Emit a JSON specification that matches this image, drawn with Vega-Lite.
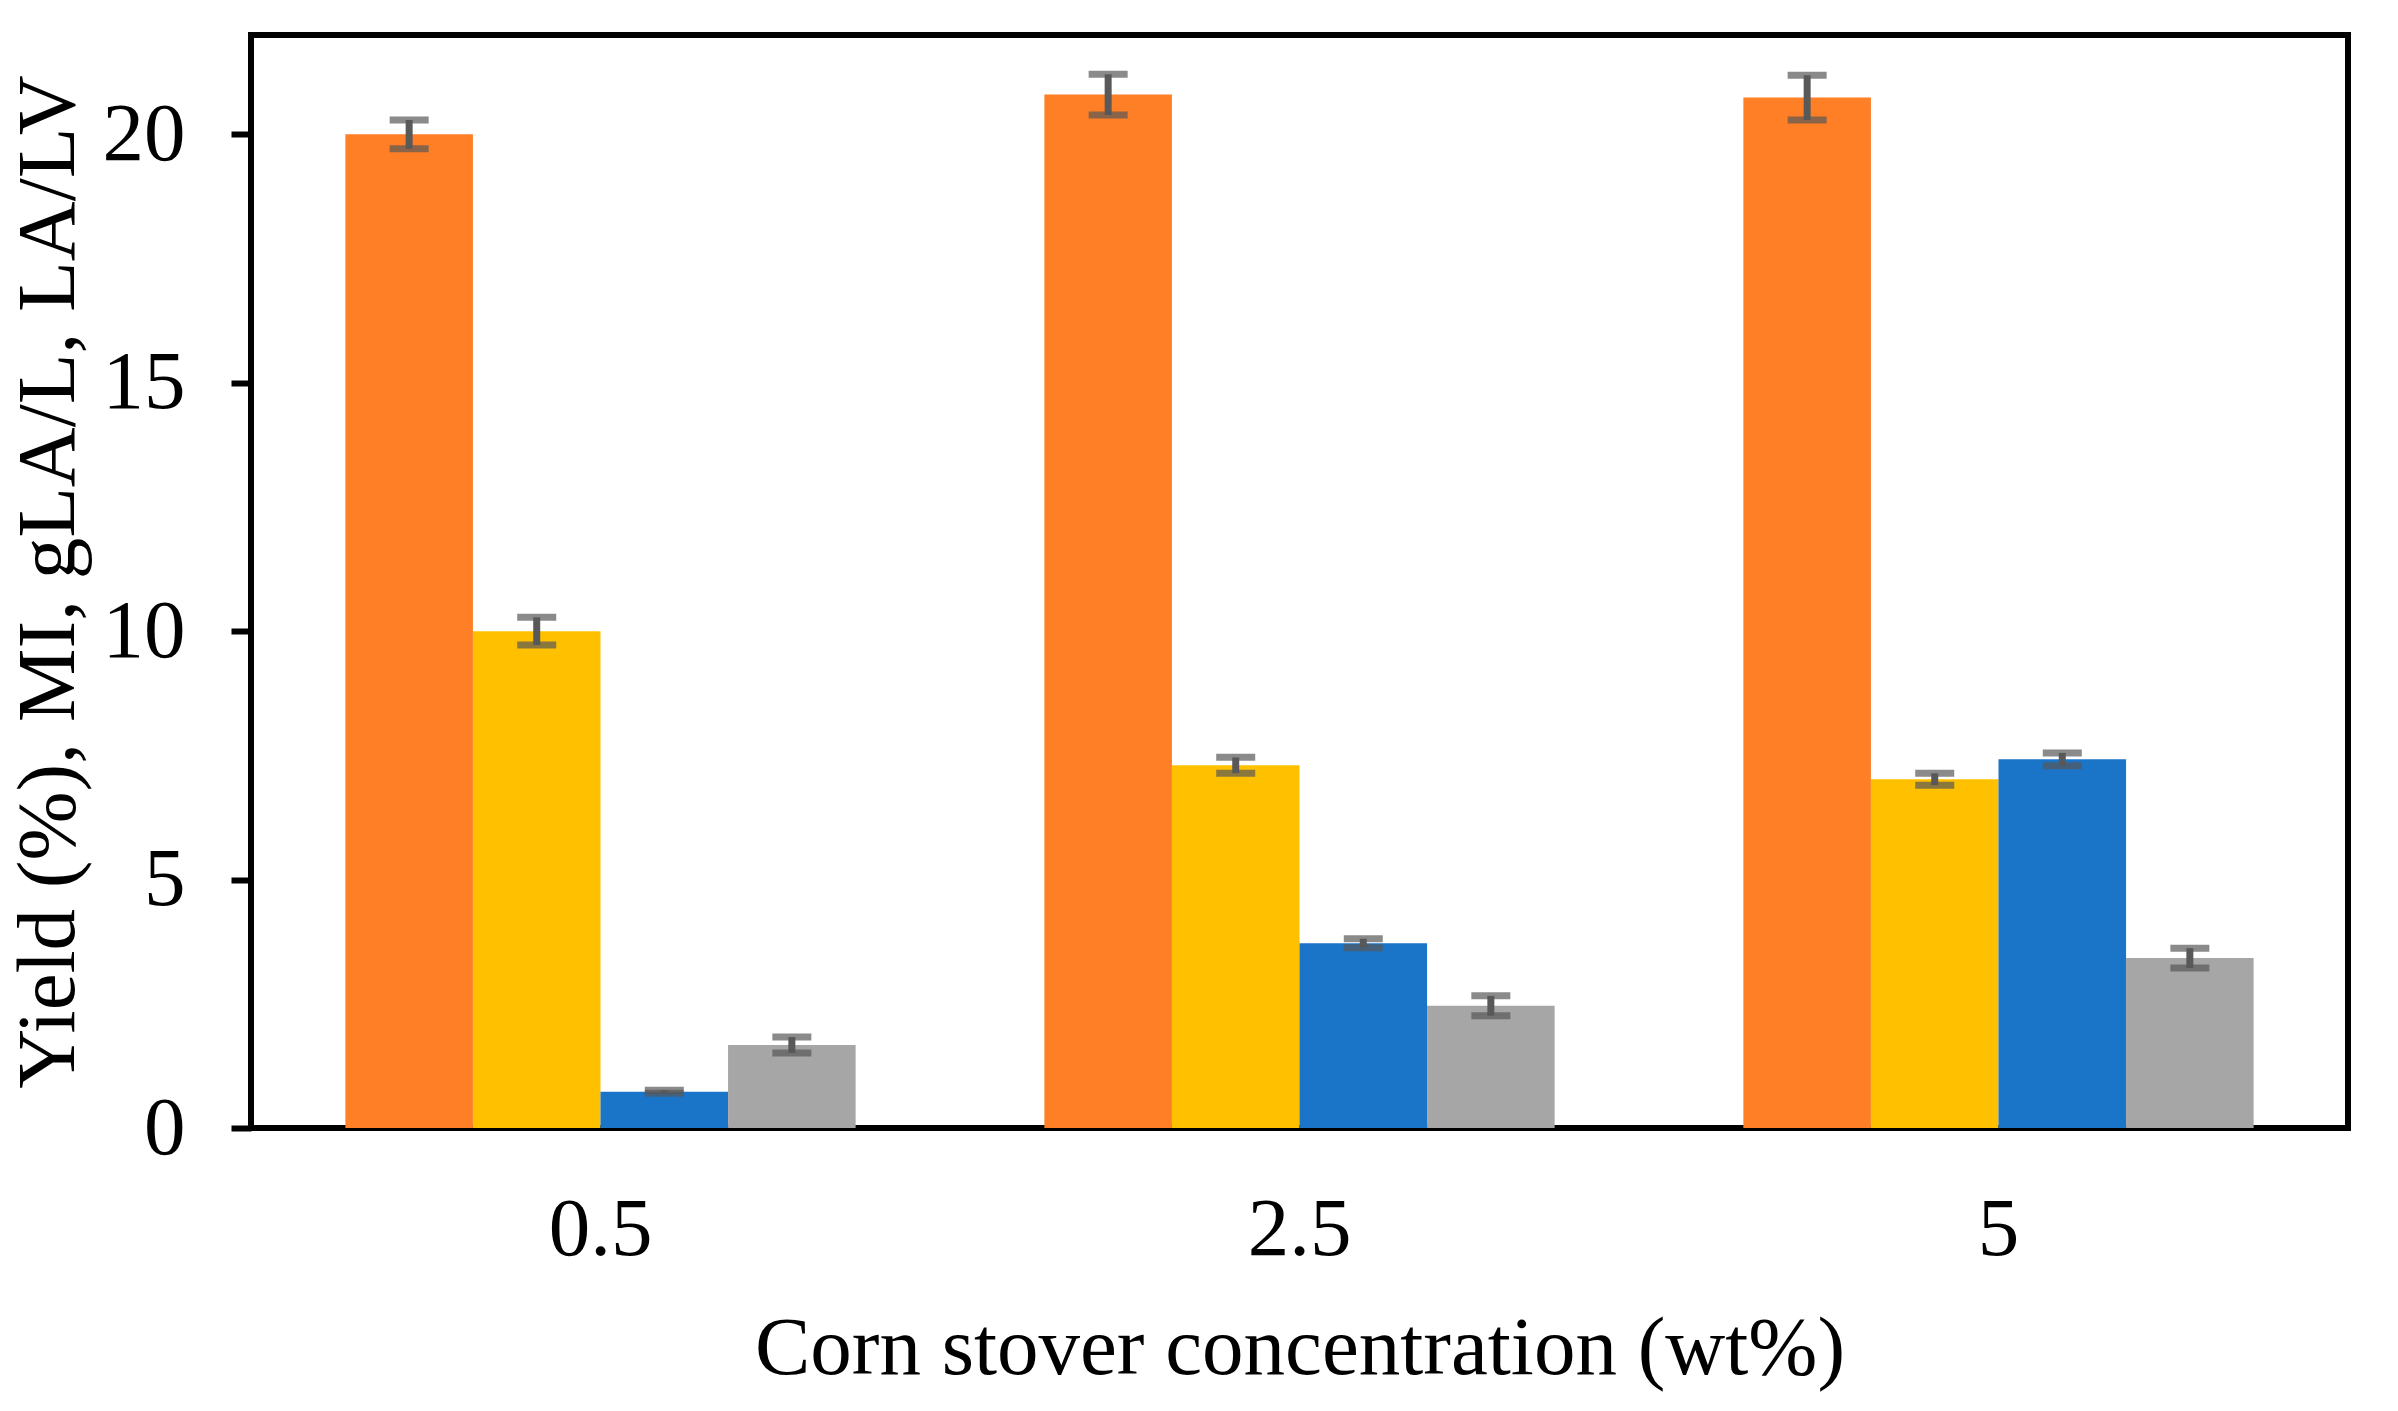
{
  "$schema": "https://vega.github.io/schema/vega-lite/v6.json",
  "width": 2097,
  "height": 1093,
  "autosize": "none",
  "padding": {"left": 251, "top": 35, "right": 50, "bottom": 283},
  "background": "white",
  "config": {
    "font": "Liberation Serif",
    "view": {"stroke": "black", "strokeWidth": 6}
  },
  "data": {
    "values": [
      {"conc": "0.5", "series": "Yield", "value": 20.0, "lo": 19.71, "hi": 20.29},
      {"conc": "0.5", "series": "MI", "value": 10.0, "lo": 9.72, "hi": 10.28},
      {"conc": "0.5", "series": "gLA/L", "value": 0.73, "lo": 0.7, "hi": 0.76},
      {"conc": "0.5", "series": "LA/LV", "value": 1.67, "lo": 1.51, "hi": 1.83},
      {"conc": "2.5", "series": "Yield", "value": 20.8, "lo": 20.39, "hi": 21.21},
      {"conc": "2.5", "series": "MI", "value": 7.3, "lo": 7.14, "hi": 7.46},
      {"conc": "2.5", "series": "gLA/L", "value": 3.72, "lo": 3.63, "hi": 3.81},
      {"conc": "2.5", "series": "LA/LV", "value": 2.46, "lo": 2.26, "hi": 2.66},
      {"conc": "5", "series": "Yield", "value": 20.74, "lo": 20.29, "hi": 21.19},
      {"conc": "5", "series": "MI", "value": 7.02, "lo": 6.9, "hi": 7.14},
      {"conc": "5", "series": "gLA/L", "value": 7.42, "lo": 7.29, "hi": 7.55},
      {"conc": "5", "series": "LA/LV", "value": 3.42, "lo": 3.22, "hi": 3.62}
    ]
  },
  "encoding": {
    "x": {
      "field": "conc",
      "type": "nominal",
      "sort": ["0.5", "2.5", "5"],
      "scale": {"paddingInner": 0.27, "paddingOuter": 0.135},
      "axis": {
        "title": "Corn stover concentration (wt%)",
        "titleFontSize": 83,
        "titleFontWeight": "normal",
        "titleColor": "black",
        "titlePadding": 36,
        "labelFontSize": 83,
        "labelColor": "black",
        "labelAngle": 0,
        "labelPadding": 60,
        "ticks": false,
        "tickSize": 0,
        "domain": false,
        "grid": false
      }
    },
    "xOffset": {"field": "series", "type": "nominal", "sort": ["Yield", "MI", "gLA/L", "LA/LV"]}
  },
  "layer": [
    {
      "mark": {"type": "bar"},
      "encoding": {
        "y": {
          "field": "value",
          "type": "quantitative",
          "scale": {"domain": [0, 22], "nice": false},
          "axis": {
            "title": "Yield (%), MI, gLA/L, LA/LV",
            "titleFontSize": 83,
            "titleFontWeight": "normal",
            "titleColor": "black",
            "titlePadding": 12,
            "values": [0, 5, 10, 15, 20],
            "labelFontSize": 83,
            "labelColor": "black",
            "labelPadding": 46,
            "tickSize": 20,
            "tickWidth": 6,
            "tickColor": "black",
            "domain": false,
            "grid": false
          }
        },
        "color": {
          "field": "series",
          "type": "nominal",
          "scale": {
            "domain": ["Yield", "MI", "gLA/L", "LA/LV"],
            "range": ["#FF7F27", "#FFC000", "#1A74C8", "#A6A6A6"]
          },
          "legend": null
        }
      }
    },
    {
      "mark": {"type": "rule", "color": "#595959", "strokeWidth": 7},
      "encoding": {
        "y": {"field": "lo", "type": "quantitative"},
        "y2": {"field": "hi"}
      }
    },
    {
      "mark": {"type": "tick", "color": "#595959", "thickness": 7, "size": 39, "orient": "horizontal"},
      "encoding": {"y": {"field": "lo", "type": "quantitative"}}
    },
    {
      "mark": {"type": "tick", "color": "#595959", "thickness": 7, "size": 39, "orient": "horizontal"},
      "encoding": {"y": {"field": "hi", "type": "quantitative"}}
    }
  ]
}
